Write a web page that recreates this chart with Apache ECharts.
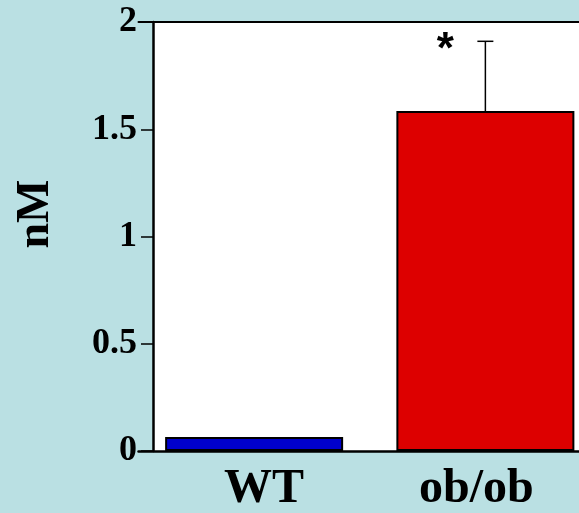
<!DOCTYPE html>
<html><head><meta charset="utf-8">
<script src="https://cdn.jsdelivr.net/npm/echarts@6/dist/echarts.min.js"></script>
<style>html,body{margin:0;padding:0;background:#bae0e3;}#c{width:579px;height:513px;}</style>
</head><body><div id="c"></div>
<script>
const categories = ['WT', 'ob/ob'];
const values = [0.065, 1.585];
const errors = [0, 0.325];
const significance = ['', '*'];
const barColors = ['#0000cc', '#dd0000'];
const yMin = 0, yMax = 2, yStep = 0.5;

const gridLeft = 138.5, gridTop = 22, gridWidth = 462.5, gridBottom = 62;
const axisShift = 14.5;
const chart = echarts.init(document.getElementById('c'), null, {renderer: 'canvas'});
const serif = '"Liberation Serif", "Times New Roman", serif';
const labelFont = {color: '#000', fontFamily: serif, fontWeight: 'bold', fontSize: 48};

chart.setOption({
  backgroundColor: '#bae0e3',
  animation: false,
  graphic: [{
    type: 'rect', z: -1,
    shape: {x: gridLeft + axisShift, y: gridTop, width: 600, height: 513 - gridBottom - gridTop},
    style: {fill: '#ffffff'}
  }],
  grid: {left: gridLeft, top: gridTop, width: gridWidth, bottom: gridBottom, containLabel: false, outerBoundsMode: 'none'},
  xAxis: [{
    type: 'category', data: categories, z: 5,
    axisLine: {lineStyle: {color: '#000', width: 2.5}},
    axisTick: {show: false},
    axisLabel: Object.assign({margin: 15, interval: 0, hideOverlap: false,
      formatter: (v, i) => (i === 0 ? '{a|' : '{b|') + v + '}',
      rich: {
        a: Object.assign({padding: [0, 0, 0, 20]}, labelFont),
        b: Object.assign({padding: [0, 18, 0, 0]}, labelFont)
      }}, labelFont)
  }, {
    type: 'category', data: categories, position: 'top', z: 5,
    axisLine: {lineStyle: {color: '#000', width: 2}},
    axisTick: {show: false}, axisLabel: {show: false}
  }],
  yAxis: {
    type: 'value', min: yMin, max: yMax, interval: yStep, offset: -axisShift, z: 5,
    splitLine: {show: false},
    axisLine: {show: true, lineStyle: {color: '#000', width: 2.5}},
    axisTick: {show: true, length: 12, lineStyle: {color: '#000', width: 1.5}},
    axisLabel: {color: '#000', fontFamily: serif, fontWeight: 'bold', fontSize: 36, margin: 16},
    name: 'nM', nameLocation: 'middle', nameRotate: 90, nameGap: 94,
    nameTextStyle: {color: '#000', fontFamily: serif, fontWeight: 'bold', fontSize: 46, padding: [0, 0, 0, 45]}
  },
  series: [{
    type: 'bar', barWidth: 178, z: 2,
    data: values.map((v, i) => ({value: v, itemStyle: {color: barColors[i]}})),
    itemStyle: {borderColor: '#000', borderWidth: 2}
  }, {
    type: 'custom', z: 3,
    data: categories.map((c, i) => [i, values[i], errors[i]]),
    renderItem: function (params, api) {
      const idx = api.value(0), mean = api.value(1), err = api.value(2);
      if (!err) return null;
      const base = api.coord([idx, mean]);
      const top = api.coord([idx, mean + err]);
      const children = [
        {type: 'line', shape: {x1: base[0], y1: base[1], x2: top[0], y2: top[1]}, style: {stroke: '#000', lineWidth: 1.5}},
        {type: 'line', shape: {x1: top[0] - 8, y1: top[1], x2: top[0] + 8, y2: top[1]}, style: {stroke: '#000', lineWidth: 1.5}}
      ];
      const s = significance[params.dataIndex];
      if (s) {
        children.push({type: 'text', style: {text: s, x: top[0] - 40, y: top[1] + 10, align: 'center', verticalAlign: 'middle',
          font: 'bold 44px "Liberation Sans", Arial, sans-serif', fill: '#000'}});
      }
      return {type: 'group', children: children};
    }
  }]
});
</script></body></html>
